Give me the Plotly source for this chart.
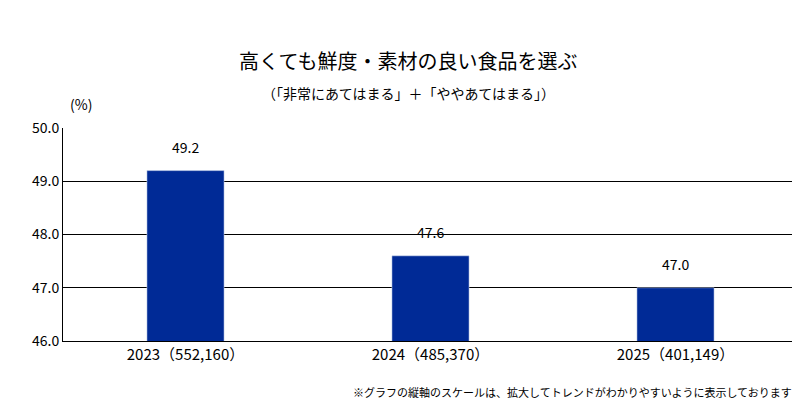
import plotly.graph_objects as go

categories = ["2023（552,160）", "2024（485,370）", "2025（401,149）"]
values = [49.2, 47.6, 47.0]
labels = ["49.2", "47.6", "47.0"]
tick_vals = [46, 47, 48, 49, 50]
tick_text = ["46.0", "47.0", "48.0", "49.0", "50.0"]

F = "Noto Sans CJK JP"
W, H, L, R, T, B = 800, 405, 55, 10, 120, 72
pw, ph = W - L - R, H - T - B
SH = 8  # render offset correction

fig = go.Figure(go.Bar(x=categories, y=values, marker_color="#002A96", width=0.315))
anns = []
for c, v, t in zip(categories, values, labels):
    anns.append(dict(x=c, y=v, xref="x", yref="y", text=t, showarrow=False,
                     yanchor="bottom", yshift=12, font=dict(size=14)))

def pa(text, x, y, size, xanchor="center"):
    return dict(text=text, showarrow=False, xref="paper", yref="paper", font=dict(size=size),
                x=(x - L) / pw, y=(H - B - (y - SH)) / ph, xanchor=xanchor, yanchor="middle")

anns += [
    pa("高くても鮮度・素材の良い食品を選ぶ", 400, 60, 20),
    pa("（「非常にあてはまる」＋「ややあてはまる」）", 400, 93, 14),
    pa("(%)", 73, 104, 14),
    pa("※グラフの縦軸のスケールは、拡大してトレンドがわかりやすいように表示しております", 786, 392, 11, "right"),
]
fig.update_layout(
    width=W, height=H, paper_bgcolor="white", plot_bgcolor="white",
    margin=dict(l=L, r=R, t=T, b=B), showlegend=False,
    font=dict(family=F, color="#000", size=13),
    yaxis=dict(range=[46, 50], tickvals=tick_vals, ticktext=tick_text, showgrid=True,
               gridcolor="#000", gridwidth=1, showline=True, linecolor="#000",
               ticks="", tickfont=dict(size=14), zeroline=False),
    xaxis=dict(showline=True, linecolor="#000", tickfont=dict(size=15), ticks=""),
    annotations=anns,
)
fig.write_html("out.html")
